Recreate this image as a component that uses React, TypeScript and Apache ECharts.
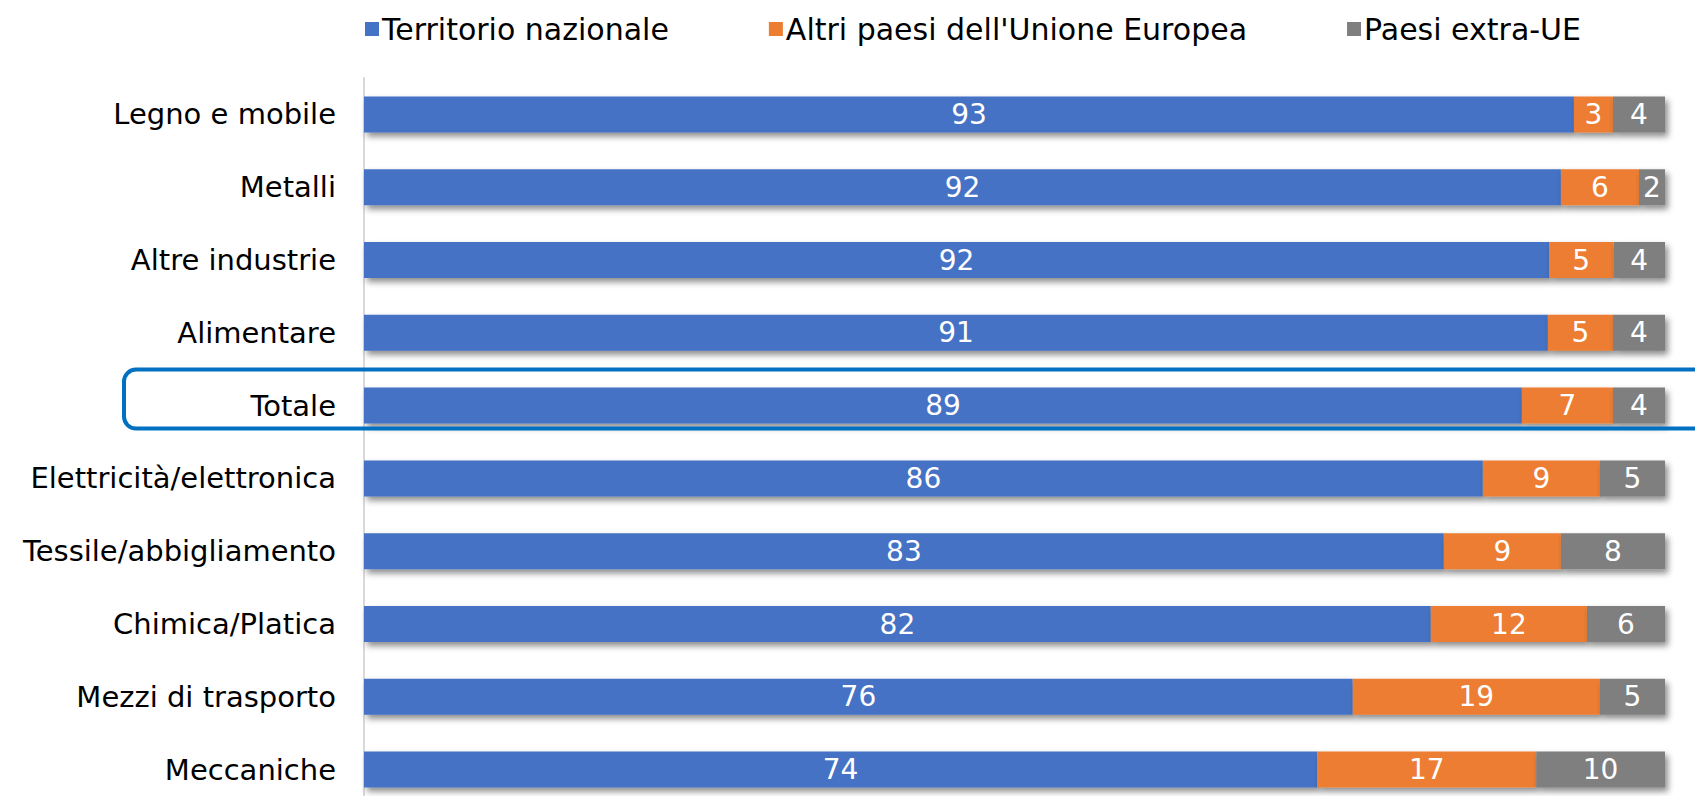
import React, { useEffect, useRef } from "react";
import * as echarts from "echarts";

const categories = [
  "Legno e mobile",
  "Metalli",
  "Altre industrie",
  "Alimentare",
  "Totale",
  "Elettricità/elettronica",
  "Tessile/abbigliamento",
  "Chimica/Platica",
  "Mezzi di trasporto",
  "Meccaniche",
];
const seriesNames = ["Territorio nazionale", "Altri paesi dell'Unione Europea", "Paesi extra-UE"];
const nazionale = [93, 92, 92, 91, 89, 86, 83, 82, 76, 74];
const altriUE = [3, 6, 5, 5, 7, 9, 9, 12, 19, 17];
const extraUE = [4, 2, 4, 4, 4, 5, 8, 6, 5, 10];
const highlighted = "Totale";

const colors = ["#4472C4", "#ED7D31", "#7F7F7F"];
const FONT = "DejaVu Sans";

export default function App() {
  const ref = useRef<HTMLDivElement>(null);
  useEffect(() => {
    if (!ref.current) return;
    const chart = echarts.init(ref.current, undefined, { renderer: "svg" });
    const raw = [nazionale, altriUE, extraUE];
    const totals = categories.map((_, i) => nazionale[i] + altriUE[i] + extraUE[i]);
    const series = raw.map((arr, s) => ({
      name: seriesNames[s],
      type: "bar",
      stack: "tot",
      barWidth: "49.5%",
      data: arr.map((v, i) => (v / totals[i]) * 100),
      itemStyle: {
        color: colors[s],
        shadowColor: "rgba(0,0,0,0.45)",
        shadowBlur: 6,
        shadowOffsetX: 3,
        shadowOffsetY: 4,
      },
      label: {
        show: true,
        position: "inside",
        color: "#ffffff",
        fontFamily: FONT,
        fontSize: 28,
        formatter: (p: any) => String(arr[p.dataIndex]),
      },
    }));
    chart.setOption({
      animation: false,
      legend: {
        data: seriesNames,
        left: 360,
        top: 9,
        itemWidth: 14,
        itemHeight: 14,
        itemGap: 100,
        icon: "rect",
        textStyle: { fontFamily: FONT, fontSize: 30, color: "#000000", padding: [0, 0, 0, -2] },
      },
      grid: { left: 364, right: 30, top: 78, height: 728, containLabel: false },
      xAxis: {
        type: "value",
        min: 0,
        max: 100,
        show: false,
        splitLine: { show: false },
      },
      yAxis: {
        type: "category",
        data: categories,
        inverse: true,
        axisLine: { show: true, lineStyle: { color: "#D9D9D9", width: 2 } },
        axisTick: { show: false },
        axisLabel: { fontFamily: FONT, fontSize: 29, color: "#000000", margin: 28 },
      },
      series,
    });
    const cy = chart.convertToPixel({ yAxisIndex: 0 }, highlighted) as number;
    chart.setOption({
      graphic: [
        {
          type: "rect",
          z: 100,
          shape: { x: 124, y: cy - 36, width: 1700, height: 59, r: 12 },
          style: { fill: "none", stroke: "#0070C0", lineWidth: 4 },
        },
      ],
    });
    return () => chart.dispose();
  }, []);
  return (
    <div
      ref={ref}
      style={{ position: "fixed", left: 0, top: 0, width: 1695, height: 830, background: "#ffffff" }}
    />
  );
}
